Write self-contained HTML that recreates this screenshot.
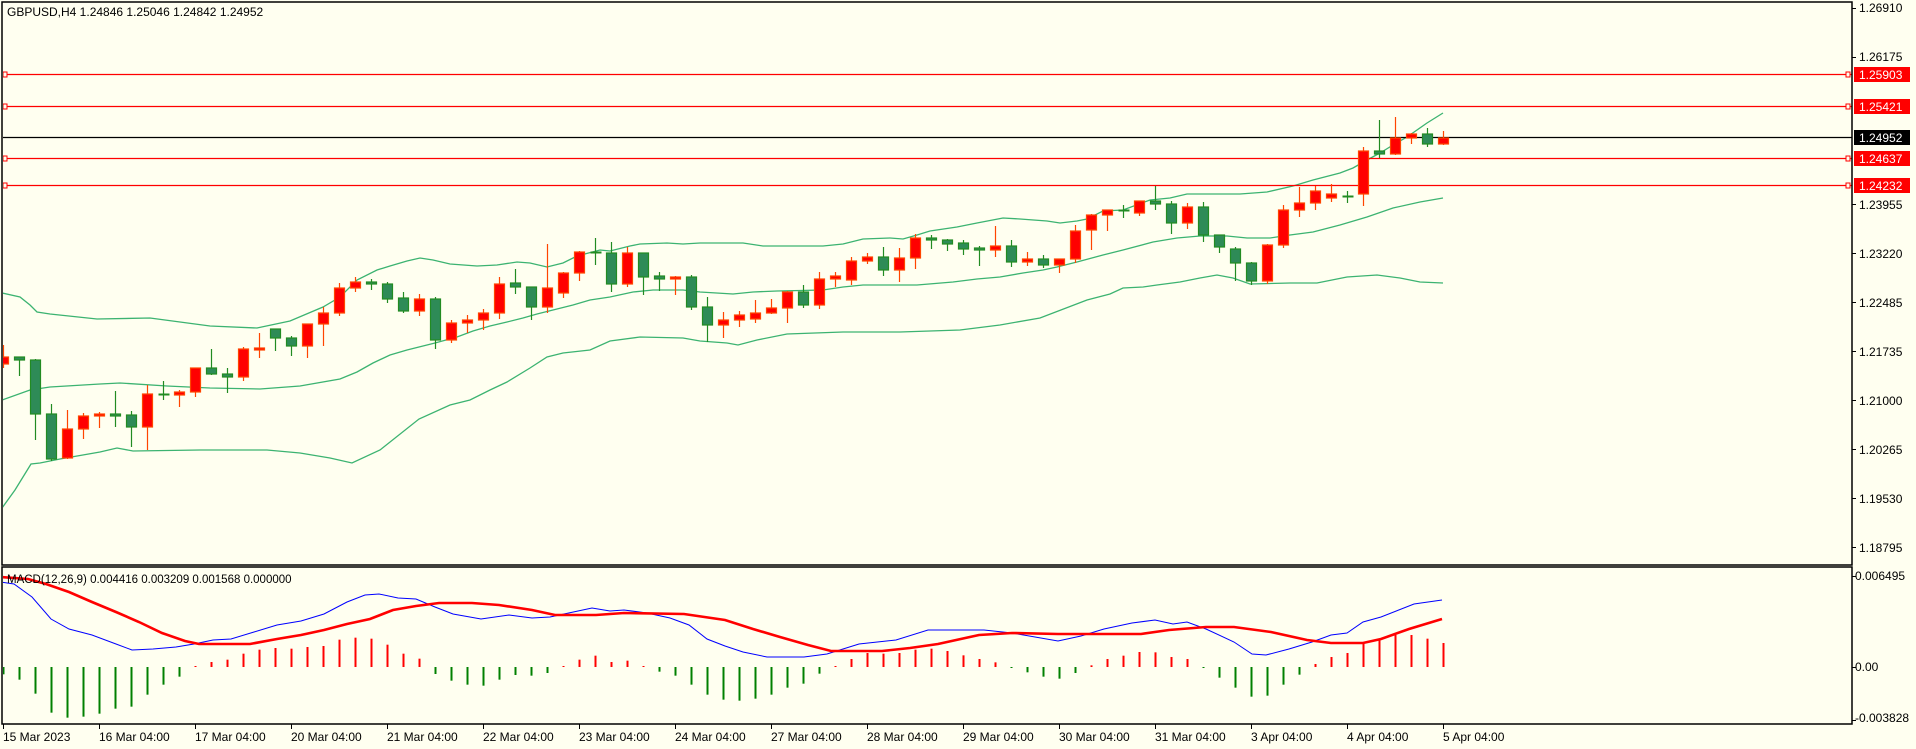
<!DOCTYPE html>
<html><head><meta charset="utf-8"><style>
html,body{margin:0;padding:0;background:#fffff0;}
svg{display:block;font-family:"Liberation Sans",sans-serif;}
</style></head><body>
<svg id="s" width="1916" height="749" viewBox="0 0 1916 749" xmlns="http://www.w3.org/2000/svg">
<rect x="0" y="0" width="1916" height="749" fill="#fffff0"/>
<defs>
<clipPath id="cm"><rect x="3" y="3" width="1849" height="562"/></clipPath>
<clipPath id="cd"><rect x="3" y="568" width="1849" height="156"/></clipPath>
</defs>
<g id="main" clip-path="url(#cm)"></g>
<g id="macd" clip-path="url(#cd)"></g>
<g id="frame" fill="none" stroke="#000" stroke-width="1.5">
<rect x="2" y="2" width="1850" height="563"/>
<rect x="2" y="567" width="1850" height="157"/>
</g>
<g font-size="12" fill="#000">
<text x="7" y="16">GBPUSD,H4  1.24846 1.25046 1.24842 1.24952</text>
<text x="7" y="583" font-size="11.5">MACD(12,26,9) 0.004416 0.003209 0.001568 0.000000</text>
</g>
<g id="axis" font-size="12" fill="#000">
<text x="1859" y="12">1.26910</text>
<text x="1859" y="61">1.26175</text>
<text x="1859" y="209">1.23955</text>
<text x="1859" y="258">1.23220</text>
<text x="1859" y="307">1.22485</text>
<text x="1859" y="356">1.21735</text>
<text x="1859" y="405">1.21000</text>
<text x="1859" y="454">1.20265</text>
<text x="1859" y="503">1.19530</text>
<text x="1859" y="552">1.18795</text>
<text x="1855" y="580">0.006495</text>
<text x="1855" y="671">0.00</text>
<text x="1855" y="722">-0.003828</text>
</g>
<g font-size="12">
<rect x="1854" y="67" width="56" height="15" fill="#ff0000"/><text x="1859" y="79" fill="#fff">1.25903</text>
<rect x="1854" y="99" width="56" height="15" fill="#ff0000"/><text x="1859" y="111" fill="#fff">1.25421</text>
<rect x="1854" y="130" width="56" height="15" fill="#000"/><text x="1859" y="142" fill="#fff">1.24952</text>
<rect x="1854" y="151" width="56" height="15" fill="#ff0000"/><text x="1859" y="163" fill="#fff">1.24637</text>
<rect x="1854" y="178" width="56" height="15" fill="#ff0000"/><text x="1859" y="190" fill="#fff">1.24232</text>
</g>
<g font-size="12" fill="#000">
<text x="3" y="741">15 Mar 2023</text>
<text x="99" y="741">16 Mar 04:00</text>
<text x="195" y="741">17 Mar 04:00</text>
<text x="291" y="741">20 Mar 04:00</text>
<text x="387" y="741">21 Mar 04:00</text>
<text x="483" y="741">22 Mar 04:00</text>
<text x="579" y="741">23 Mar 04:00</text>
<text x="675" y="741">24 Mar 04:00</text>
<text x="771" y="741">27 Mar 04:00</text>
<text x="867" y="741">28 Mar 04:00</text>
<text x="963" y="741">29 Mar 04:00</text>
<text x="1059" y="741">30 Mar 04:00</text>
<text x="1155" y="741">31 Mar 04:00</text>
<text x="1251" y="741">3 Apr 04:00</text>
<text x="1347" y="741">4 Apr 04:00</text>
<text x="1443" y="741">5 Apr 04:00</text>
</g>
<g id="ticks" stroke="#000" stroke-width="1"></g>
</svg>
<script>
var NS="http://www.w3.org/2000/svg";
function el(p,t,a){var e=document.createElementNS(NS,t);for(var k in a)e.setAttribute(k,a[k]);p.appendChild(e);return e;}
var M=document.getElementById("main"),D=document.getElementById("macd"),T=document.getElementById("ticks");
// price axis ticks
[8,57,204,253,302,351,400,449,498,547,576,667,720].forEach(function(y){el(T,"line",{x1:1852,y1:y+.5,x2:1856,y2:y+.5});});
for(var k=0;k<16;k++){var x=3.5+96*k;el(T,"line",{x1:x,y1:724,x2:x,y2:729});}
// bands
function pl(pts,col,w,g){el(g,"polyline",{points:pts.map(function(p){return p[0]+","+p[1]}).join(" "),fill:"none",stroke:col,"stroke-width":w});}
var up=[[2,293],[20,297],[30,305],[37,312],[50,314],[97,319],[150,318],[210,326],[257,328],[290,321],[323,307],[340,297],[357,280],[377,270],[390,266],[407,261],[420,258],[433,260],[450,264],[477,266],[497,265],[517,262],[530,263],[547,267],[563,263],[577,256],[600,250],[610,251],[630,246],[640,244],[667,243],[683,244],[700,243],[743,243],[763,246],[823,246],[843,244],[863,239],[890,238],[903,239],[917,235],[930,231],[957,227],[977,223],[1003,218],[1020,219],[1047,221],[1060,223],[1077,221],[1087,219],[1103,211],[1123,210],[1150,200],[1170,198],[1187,194],[1200,194],[1240,194],[1267,192],[1293,186],[1313,180],[1340,173],[1353,168],[1367,160],[1380,153],[1393,145],[1407,137],[1427,123],[1443,113]];
var mid=[[2,400],[30,390],[50,387],[100,384],[120,383],[167,386],[210,388],[260,389],[300,386],[340,379],[357,372],[373,363],[390,355],[407,350],[423,346],[435,343],[457,337],[473,331],[490,326],[507,322],[523,318],[537,314],[557,309],[573,305],[590,300],[610,297],[633,292],[653,290],[683,290],[700,292],[733,294],[753,292],[777,291],[823,290],[843,287],[863,285],[917,285],[953,282],[977,279],[1000,277],[1023,273],[1043,270],[1057,267],[1077,262],[1103,255],[1123,250],[1153,242],[1177,238],[1200,236],[1227,236],[1247,238],[1270,238],[1290,235],[1313,232],[1340,225],[1367,217],[1393,208],[1420,202],[1443,198]];
var lo=[[2,508],[15,490],[31,464],[40,463],[60,459],[100,452],[117,448],[133,451],[200,450],[267,450],[300,453],[330,458],[352,463],[380,450],[419,419],[450,405],[470,400],[490,390],[507,382],[530,368],[547,357],[563,353],[590,350],[610,341],[640,337],[683,338],[700,341],[727,343],[738,345],[757,340],[787,334],[843,332],[900,332],[960,330],[1000,325],[1040,318],[1087,300],[1110,294],[1123,288],[1143,287],[1157,285],[1180,282],[1200,278],[1217,275],[1233,278],[1250,284],[1290,283],[1317,283],[1347,277],[1377,275],[1400,278],[1420,282],[1443,283]];
pl(up,"#3cb371",1.3,M);pl(mid,"#3cb371",1.3,M);pl(lo,"#3cb371",1.3,M);
// horizontal lines
[74,106,158,185].forEach(function(y){el(M,"line",{x1:2,y1:y+.5,x2:1852,y2:y+.5,stroke:"#ff0000","stroke-width":1.3});
el(M,"rect",{x:3,y:y-2,width:4,height:5,fill:"#fffff0",stroke:"#ff0000","stroke-width":1});
el(M,"rect",{x:1846,y:y-2,width:4,height:5,fill:"#fffff0",stroke:"#ff0000","stroke-width":1});});
el(M,"line",{x1:2,y1:137.5,x2:1852,y2:137.5,stroke:"#000","stroke-width":1.3});
// candles
var C=[["r",357,364,345,367],["g",357,360,357,375],["g",360,414,359,439],["g",414,459,404,460],["r",429,458,410,458],["r",416,429,413,438],["r",414,416,412,427],["g",414,416,391,426],["g",415,427,411,446],["r",394,427,385,449],["g",394,395,381,399],["r",392,395,390,406],["r",368,392,368,396],["g",368,374,349,374],["g",374,377,368,392],["r",349,377,347,380],["r",348,350,333,357],["g",329,338,329,350],["g",338,346,336,355],["r",324,346,324,357],["r",313,324,307,345],["r",288,313,283,315],["r",282,288,277,291],["g",282,284,279,289],["g",284,299,282,302],["g",298,311,292,312],["r",299,311,294,315],["g",299,340,297,348],["r",323,340,320,342],["r",320,323,315,332],["r",313,320,309,329],["r",284,313,277,318],["g",283,287,269,293],["g",287,307,287,319],["r",288,307,244,312],["r",273,293,272,297],["r",252,273,251,280],["g",252,253,238,264],["g",253,284,242,291],["r",253,284,247,286],["g",253,277,253,294],["g",276,279,272,290],["r",277,279,276,294],["g",277,307,275,309],["g",307,325,297,341],["r",320,325,312,337],["r",315,320,311,326],["r",313,319,300,322],["r",308,313,299,313],["r",292,308,291,322],["g",292,305,285,307],["r",279,305,272,308],["r",276,279,272,286],["r",261,280,257,284],["r",257,261,253,263],["g",257,270,247,275],["r",258,270,248,281],["r",238,258,234,268],["g",238,240,235,248],["g",240,244,239,250],["g",243,249,240,254],["g",248,250,246,265],["r",246,250,226,256],["g",246,262,240,266],["r",259,262,252,265],["g",259,265,255,267],["r",259,265,259,272],["r",231,259,225,262],["r",215,230,214,249],["r",210,215,210,230],["g",210,211,205,217],["r",201,213,201,215],["g",201,204,186,209],["g",204,223,201,233],["r",207,223,203,228],["g",207,235,202,241],["g",235,247,235,252],["g",249,263,247,280],["g",263,281,262,284],["r",245,281,244,283],["r",210,245,205,247],["r",203,210,187,216],["r",191,203,186,209],["r",194,198,184,201],["g",196,197,191,202],["r",151,194,147,205],["g",151,154,120,157],["r",138,154,117,154],["r",134,138,133,143],["g",134,144,128,146],["r",138,144,131,144]];
C.forEach(function(c,i){var x=3+16*i+.5;var g=c[0]=="g";var wc=g?"#228b22":"#ff4500";
el(M,"line",{x1:x,y1:c[3],x2:x,y2:c[4]+1,stroke:wc,"stroke-width":1.2});
var h=c[2]-c[1];
if(h<2){el(M,"line",{x1:x-5,y1:c[1]+.5,x2:x+6,y2:c[1]+.5,stroke:g?"#228b22":"#ff4500","stroke-width":2});}
else el(M,"rect",{x:x-5,y:c[1],width:10,height:h,fill:g?"#2e8b57":"#ff0000",stroke:g?"#228b22":"#ff4500","stroke-width":1.2});});
// macd
el(D,"line",{x1:2,y1:667,x2:1852,y2:667,stroke:"none"});
var H=[322,338,380,437,452,449,440,425,419,383,353,329,297,285,278,260,248,243,245,240,237,218,212,215,233,260,275,321,341,353,356,338,324,326,318,297,278,266,285,281,297,314,326,353,383,398,401,395,383,362,350,320,297,276,258,260,258,248,245,252,265,276,286,301,316,329,335,318,295,276,266,255,256,270,276,303,332,362,389,386,353,323,291,270,258,228,218,204,204,215,228];
H.forEach(function(v,i){var x=3+16*i+.5;var y=567+v/3;var g=v>300;
el(D,"line",{x1:x,y1:667,x2:x,y2:Math.abs(y-667)<1?(g?668:666):y,stroke:g?"#008000":"#ff0000","stroke-width":2});});
var blue=[[0,582],[14,584],[32,597],[51,619],[69,629],[92,635],[116,644],[132,650],[153,649],[176,647],[194,644],[213,640],[231,639],[254,632],[277,625],[301,621],[324,614],[347,602],[365,595],[379,594],[398,598],[416,599],[435,607],[453,614],[481,619],[509,615],[532,618],[550,617],[564,614],[592,608],[610,611],[624,610],[647,613],[670,618],[689,625],[707,639],[725,646],[743,652],[767,657],[804,657],[827,654],[859,644],[896,640],[928,630],[984,630],[1012,633],[1058,641],[1081,636],[1104,629],[1132,623],[1155,620],[1173,624],[1187,622],[1206,629],[1234,642],[1252,654],[1266,655],[1289,649],[1312,642],[1331,635],[1347,633],[1363,622],[1381,617],[1414,604],[1442,600]];
var red=[[0,577],[28,579],[46,584],[69,592],[92,602],[116,612],[139,622],[162,633],[185,641],[199,644],[250,644],[277,639],[301,635],[324,630],[347,624],[370,619],[393,610],[416,606],[439,603],[472,603],[499,605],[532,610],[555,615],[596,615],[624,613],[684,614],[725,620],[753,629],[780,637],[808,645],[831,651],[882,651],[910,648],[938,644],[979,635],[1012,633],[1058,634],[1141,634],[1169,630],[1206,627],[1234,627],[1271,632],[1307,640],[1331,643],[1363,643],[1381,639],[1409,629],[1442,619]];
pl(blue,"#0000ff",1,D);pl(red,"#ff0000",2.6,D);
</script>
</body></html>
